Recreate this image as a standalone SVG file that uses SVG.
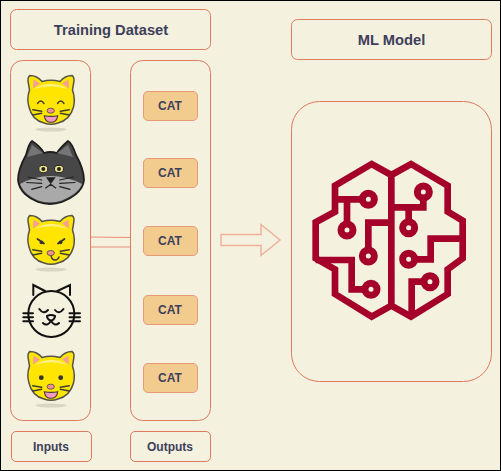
<svg xmlns="http://www.w3.org/2000/svg" width="501" height="471" viewBox="0 0 501 471">
<style>
.box{fill:none;stroke:#e07a5f;stroke-width:1}
.cat rect{fill:#f2cc8f;stroke:#e89a78;stroke-width:1}
text{font-family:"Liberation Sans",Arial,sans-serif;font-weight:bold;fill:#3d405b;text-anchor:middle}
.t14{font-size:14.700px}.t12{font-size:12px}
.head{fill:#ffe500;stroke:#55554a;stroke-width:1.500}
.ear{fill:#f4a09a}
.ln{fill:none;stroke:#3f3f36;stroke-width:1.400;stroke-linecap:round}
.nose{fill:#f79090;stroke:#55554a;stroke-width:.9}
.shadow{fill:#d9d6c4}
.b{fill:none;stroke:#a4002a;stroke-width:20}
.n{fill:#f4f1de;stroke:#a4002a;stroke-width:21}
.g{fill:none;stroke:#222;stroke-width:1.200;stroke-linecap:round}
.w{fill:none;stroke:#111;stroke-width:2;stroke-linecap:round}
</style>
<defs>
<g id="base">
<ellipse class="shadow" cx="51" cy="55.500" rx="15.500" ry="2"/>
<path class="head" d="M30,1.500Q37,1.500 42,7.500Q51,5 60,7.500Q65,1.500 72,1.500Q75,3 73.500,10L72.500,16Q75.500,25 73.500,33Q70,46 58,49Q51,51.500 44,49Q32,46 29,33Q26.500,25 29.500,16L28.500,10Q27,3 30,1.500Z"/>
<path class="ear" d="M33.500,5.500L40,9.500L33,14.500Z"/>
<path class="ear" d="M68.500,5.500L62,9.500L69,14.500Z"/>
<path d="M34,15Q51,5 68,15Q51,9.500 34,15Z" fill="#fff08a"/>
<path class="ln" d="M32.700,35.700L41.700,37.300M32.700,41L41.700,39.300M69.300,35.700L60.300,37.300M69.300,41L60.300,39.300"/>
</g>
<g id="mouth">
<path d="M44.300,41.700Q51,43 57.700,41.700Q57,48.300 51,48.300Q45,48.300 44.300,41.700Z" fill="#f59ac0" stroke="#3f3f36" stroke-width="1.100"/>
<ellipse class="nose" cx="50.700" cy="36.700" rx="3.700" ry="2.500"/>
</g>
</defs>
<rect width="501" height="471" fill="#f4f1de"/>
<rect x="0.500" y="0.500" width="500" height="470" fill="none" stroke="#000"/>

<g id="connectors">
<path d="M90.500,237L130.500,237.500M90.500,247L130.500,247" fill="none" stroke="#e98f78" stroke-width="1"/>
<path d="M221,234.500H261V224.500L280,240L261,255.500V245.500H221Z" fill="none" stroke="#efb09c" stroke-width="1.500"/>
</g>

<g id="title-training"><rect class="box" x="10.500" y="9.500" width="200" height="40" rx="6"/><text class="t14" x="111" y="35">Training Dataset</text></g>
<g id="inputs-panel"><rect class="box" x="10.500" y="60.500" width="80" height="360" rx="12"/></g>
<g id="outputs-panel"><rect class="box" x="130.500" y="60.500" width="80" height="360" rx="12"/></g>
<g id="inputs-label"><rect class="box" x="11.500" y="431.500" width="80" height="30" rx="4.500"/><text class="t12" x="51" y="451">Inputs</text></g>
<g id="outputs-label"><rect class="box" x="130.500" y="431.500" width="80" height="30" rx="4.500"/><text class="t12" x="170" y="451">Outputs</text></g>
<g id="title-model"><rect class="box" x="291.500" y="19.500" width="200" height="40" rx="6"/><text class="t14" x="391.500" y="45">ML Model</text></g>
<g id="model-panel"><rect class="box" x="291.500" y="101.500" width="200" height="280" rx="28"/></g>

<g id="cat-label-1" class="cat"><rect x="143.500" y="91.500" width="54" height="29" rx="4.500"/><text class="t12" x="170" y="110">CAT</text></g>
<g id="cat-label-2" class="cat"><rect x="143.500" y="158.500" width="54" height="29" rx="4.500"/><text class="t12" x="170" y="177">CAT</text></g>
<g id="cat-label-3" class="cat"><rect x="143.500" y="226.500" width="54" height="29" rx="4.500"/><text class="t12" x="170" y="245">CAT</text></g>
<g id="cat-label-4" class="cat"><rect x="143.500" y="295.500" width="54" height="29" rx="4.500"/><text class="t12" x="170" y="314">CAT</text></g>
<g id="cat-label-5" class="cat"><rect x="143.500" y="363.500" width="54" height="29" rx="4.500"/><text class="t12" x="170" y="382">CAT</text></g>

<g id="cat-1" transform="translate(0,74)">
<use href="#base"/><use href="#mouth"/>
<path class="ln" d="M37.500,29.500Q40.800,24.500 44,29.500M57.500,29.500Q60.800,24.500 64,29.500"/>
</g>
<g id="cat-2">
<path d="M32,141Q41,147 44,153Q50,151 57,153Q60,148 68,141Q72,143 76,155C81,164 84,172 84,180C83,192 70,199 62,202Q50,206 38,202C30,199 19,192 18,180C18,172 21,164 26,155Q29,143 32,141Z" fill="#474747" stroke="#1e1e1e" stroke-width="1.800"/>
<path d="M20,184Q50,168 82,184C79,192 70,197 62,200.500Q50,204.500 38,200.500C30,197 23,192 20,184Z" fill="#a9a9a9"/>
<path d="M32,145L43,153L27,157Z" fill="#757575"/>
<path d="M68,145L57,153L73,157Z" fill="#757575"/>
<ellipse cx="43.300" cy="169" rx="4.500" ry="3.700" fill="#eee58a" stroke="#222" stroke-width="1"/>
<ellipse cx="59" cy="169" rx="4.500" ry="3.700" fill="#eee58a" stroke="#222" stroke-width="1"/>
<circle cx="43.300" cy="169" r="2" fill="#222"/><circle cx="59" cy="169" r="2" fill="#222"/>
<path d="M46,177.300H55.700L50.700,184.300Z" fill="#222"/>
<path class="g" d="M45.700,188L50.700,184.300L55.700,188M28,177L41.700,180M26.700,182.500L41.700,183.300M31.700,189.300L41.700,186.700M73.500,177L59.700,180M75,182.500L59.700,183.300M70,189.300L59.700,186.700"/>
</g>
<g id="cat-3" transform="translate(0,214)">
<use href="#base"/>
<ellipse class="nose" cx="50.700" cy="39" rx="3.700" ry="2.500"/>
<path d="M37.500,25L44,29.500" stroke="#333" stroke-width="1.800" fill="none" stroke-linecap="round"/>
<path d="M64.500,25L58,29.500" stroke="#333" stroke-width="1.800" fill="none" stroke-linecap="round"/>
<circle cx="41.500" cy="28.300" r="1.900" fill="#333"/><circle cx="60.500" cy="28.300" r="1.900" fill="#333"/>
<path class="ln" d="M51,42Q52,46 55,46Q58,46 59,43"/>
</g>
<g id="cat-4">
<circle class="w" cx="51.300" cy="314" r="23"/>
<path class="w" d="M33.300,295V285L45,291M70,295V285L57.300,291M23.300,313.300H33M23.300,317.300H33M23.300,321.300H33M69.500,313.300H80M69.500,317.300H80M69.500,321.300H80M39.300,309Q43.500,315 48,310M55,310Q59,315 63.500,309M47,316Q51,314 55,316Q55,319 51,321Q47,319 47,316ZM43,323Q47,327 51,321Q55,327 59,323"/>
</g>
<g id="cat-5" transform="translate(0,350)">
<use href="#base"/><use href="#mouth"/>
<circle cx="41.300" cy="27.700" r="2.400" fill="#333"/><circle cx="60.700" cy="27.700" r="2.400" fill="#333"/>
</g>

<g id="brain" transform="translate(300,150) scale(.33333)">
<path class="b" stroke-linejoin="miter" d="M274,75L215,42L105,107V185L47,217V325L105,358V432L215,500L274,467V75L333,42L443,107V185L488,212V325L443,358V432L333,500L274,467"/>
<path class="b" d="M105,148H205M141,148V240M274,218H205V318M47,330H155V418H213M274,172H370V126M326,172V233M488,266H392V328H326M335,500V395H390"/>
<circle class="n" cx="205" cy="148" r="18"/><circle class="n" cx="141" cy="240" r="18"/><circle class="n" cx="205" cy="318" r="18"/><circle class="n" cx="213" cy="418" r="18"/>
<circle class="n" cx="370" cy="126" r="18"/><circle class="n" cx="326" cy="233" r="18"/><circle class="n" cx="326" cy="328" r="18"/><circle class="n" cx="390" cy="395" r="18"/>
</g>
</svg>
